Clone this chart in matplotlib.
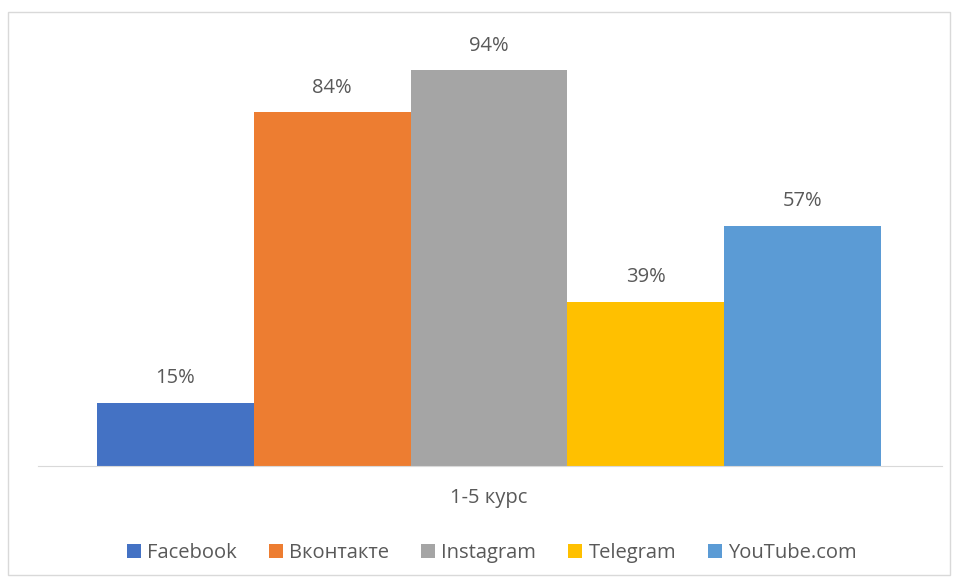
import matplotlib.pyplot as plt
from matplotlib.patches import Rectangle

# Data
networks = ['Facebook', 'Вконтакте', 'Instagram', 'Telegram', 'YouTube.com']
shares = [0.15, 0.84, 0.94, 0.39, 0.57]
colors = ['#4472C4', '#ED7D31', '#A5A5A5', '#FFC000', '#5B9BD5']
group_label = '1-5 курс'

plt.rcParams['font.family'] = ['Open Sans', 'DejaVu Sans']

fig = plt.figure(figsize=(9.55, 5.83), dpi=100)
W, H = 955, 583

# outer chart border
fig.patches.append(Rectangle((8 / W, 8 / H), 942 / W, 563 / H, transform=fig.transFigure,
                             fill=False, edgecolor='#D9D9D9', linewidth=1))

ax = fig.add_axes([38 / W, (H - 466) / H, 904 / W, 421 / H])

for i, (name, val, col) in enumerate(zip(networks, shares, colors)):
    ax.bar(i, val, width=1.0, color=col, label=name)
    ax.text(i, val + 0.035, f'{round(val * 100)}%', ha='center', va='bottom',
            fontsize=14.5, color='#595959')

ax.set_xlim(-0.5 - 0.376, 4.5 + 0.389)
ax.set_ylim(0, 1.0)
for side in ['top', 'right', 'left']:
    ax.spines[side].set_visible(False)
ax.spines['bottom'].set_color('#D9D9D9')
ax.set_yticks([])
ax.set_xticks([2])
ax.set_xticklabels([group_label], fontsize=14.5, color='#595959')
ax.tick_params(axis='x', length=0, pad=16)

fig.legend(loc='center', bbox_to_anchor=(0.515, (H - 553) / H), ncol=5, frameon=False,
           fontsize=14.5, handlelength=0.7, handleheight=0.7, handletextpad=0.3,
           columnspacing=1.6, labelcolor='#595959')

fig.savefig('out.png', dpi=100)
